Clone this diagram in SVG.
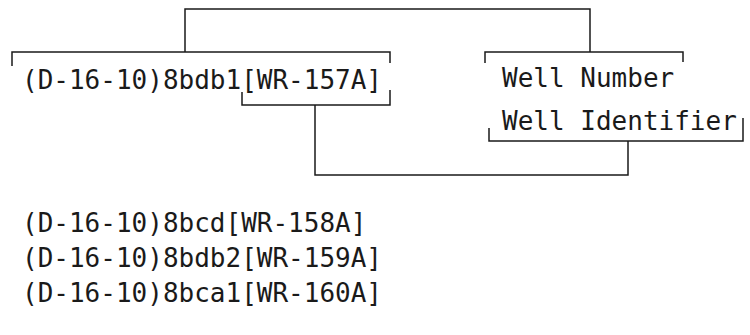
<svg xmlns="http://www.w3.org/2000/svg" width="750" height="335" viewBox="0 0 750 335">
  <style>
    text { font-family: "DejaVu Sans Mono", "Liberation Mono", monospace; font-size: 26px; fill: #1a1a1a; }
    .ln { fill: none; stroke: #1a1a1a; stroke-width: 1.5; }
  </style>
  <rect width="750" height="335" fill="#ffffff"/>
  <g id="node-8bdb1">
    <path class="ln" d="M12,66 V52 H390 V63"/>
    <path class="ln" d="M242,92 V105 H390 V90"/>
    <text x="22" y="89">(D-16-10)8bdb1[WR-157A]</text>
  </g>
  <g id="node-well-number">
    <path class="ln" d="M485,63 V52 H683 V62"/>
    <text x="502" y="87">Well Number</text>
  </g>
  <g id="node-well-identifier">
    <path class="ln" d="M489,128 V141 H743 V118"/>
    <text x="502" y="130">Well Identifier</text>
  </g>
  <g id="connectors">
    <path class="ln" d="M185,52 V9 H590 V52"/>
    <path class="ln" d="M315,105 V175 H628 V141"/>
  </g>
  <g id="node-8bcd">
    <text x="22" y="232">(D-16-10)8bcd[WR-158A]</text>
  </g>
  <g id="node-8bdb2">
    <text x="22" y="267">(D-16-10)8bdb2[WR-159A]</text>
  </g>
  <g id="node-8bca1">
    <text x="22" y="302">(D-16-10)8bca1[WR-160A]</text>
  </g>
</svg>
